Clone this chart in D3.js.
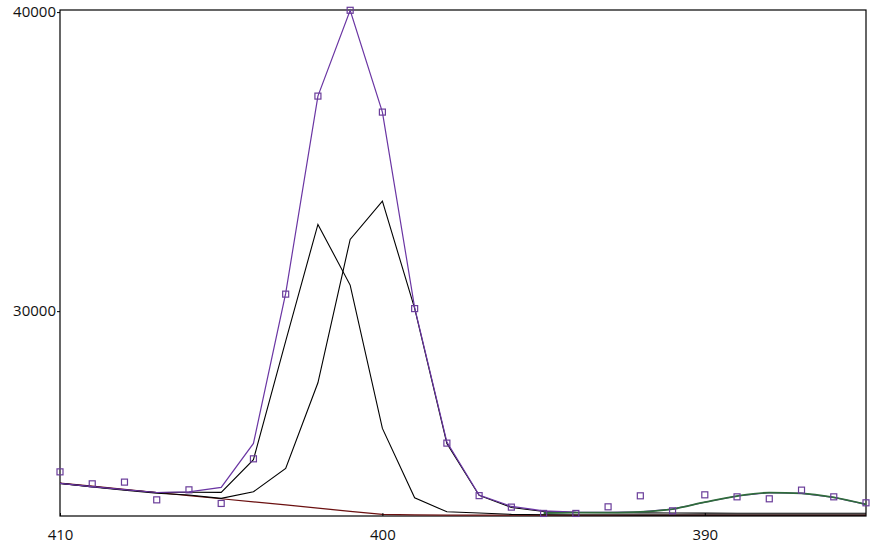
<!DOCTYPE html>
<html>
<head>
<meta charset="utf-8">
<script src="https://cdn.jsdelivr.net/npm/d3@7"></script>
<style>
  body { margin: 0; background: #fff; }
  svg { display: block; }
</style>
</head>
<body>
<div id="viz"></div>
<script>
// wavelength positions (axis runs high -> low)
const wavelength = [410, 409, 408, 407, 406, 405, 404, 403, 402, 401, 400, 399, 398,
                    397, 396, 395, 394, 393, 392, 391, 390, 389, 388, 387, 386, 385];

// measured points (squares)
const observed = [24626, 24226, 24283, 23690, 24025, 23570, 25062, 30569, 37191, 40060, 36656, 30085, 25587,
                  23831, 23447, 23236, 23236, 23457, 23825, 23323, 23858, 23791, 23725, 24015, 23791, 23591];

// total fit (purple)
const totalFit = [24240, 24133, 24030, 23935, 23959, 24106, 25577, 30593, 37191, 40060, 36656, 30119, 25620,
                  23848, 23469, 23324, 23280, 23270, 23290, 23380, 23610, 23818, 23929, 23909, 23775, 23541];

// component peaks (black)
const peakA = [24240, 24133, 24030, 23935, 23945, 23940, 25035, 29000, 32901, 30871, 26079, 23758, 23290,
               23250, 23205, 23190, 23185, 23182, 23180, 23180, 23180, 23180, 23180, 23180, 23180, 23180];
const peakB = [24240, 24120, 24010, 23910, 23850, 23740, 23959, 24741, 27604, 32399, 33680, 30092, 25577,
               23838, 23436, 23302, 23269, 23260, 23255, 23250, 23245, 23240, 23240, 23240, 23240, 23240];

// third component (green), only on the right part
const peakCx = [395, 394, 393, 392, 391, 390, 389, 388, 387, 386, 385];
const peakC = [23250, 23260, 23265, 23290, 23380, 23610, 23818, 23929, 23909, 23775, 23541];

// baseline (maroon)
const baseline = [24250, 24146, 24039, 23936, 23832, 23726, 23622, 23519, 23414, 23307, 23203, 23185,
                  23180, 23180, 23180, 23180, 23180, 23180, 23180, 23180, 23180, 23180, 23180, 23180, 23180, 23180];

const xTicks = [410, 400, 390];
const yTicks = [30000, 40000];

const width = 876, height = 550;
const margin = { top: 10, right: 10, bottom: 34, left: 60 };

const svg = d3.select("#viz").append("svg")
  .attr("width", width)
  .attr("height", height);

const x = d3.scaleLinear()
  .domain([410, 385])
  .range([margin.left, width - margin.right]);

const y = d3.scaleLinear()
  .domain([23150, 40070])
  .range([height - margin.bottom, margin.top]);

// frame
svg.append("rect")
  .attr("x", margin.left)
  .attr("y", margin.top)
  .attr("width", width - margin.left - margin.right)
  .attr("height", height - margin.top - margin.bottom)
  .attr("fill", "none")
  .attr("stroke", "#000")
  .attr("stroke-width", 1.2);

const line = d3.line()
  .x((d, i) => x(wavelength[i]))
  .y(d => y(d));

svg.append("path").datum(baseline)
  .attr("d", line).attr("fill", "none")
  .attr("stroke", "#6b1010").attr("stroke-width", 1.2);

svg.append("path").datum(peakA)
  .attr("d", line).attr("fill", "none")
  .attr("stroke", "#000").attr("stroke-width", 1.1);

svg.append("path").datum(peakB)
  .attr("d", line).attr("fill", "none")
  .attr("stroke", "#000").attr("stroke-width", 1.1);

svg.append("path").datum(totalFit)
  .attr("d", line).attr("fill", "none")
  .attr("stroke", "#6a35a3").attr("stroke-width", 1.2);

svg.append("path").datum(peakC)
  .attr("d", d3.line()
    .x((d, i) => x(peakCx[i]))
    .y(d => y(d))
    .curve(d3.curveMonotoneX))
  .attr("fill", "none")
  .attr("stroke", "#2f6b3c").attr("stroke-width", 1.8);

// squares
svg.append("g")
  .selectAll("rect")
  .data(observed)
  .join("rect")
  .attr("x", (d, i) => x(wavelength[i]) - 3)
  .attr("y", d => y(d) - 3)
  .attr("width", 6)
  .attr("height", 6)
  .attr("fill", "none")
  .attr("stroke", "#6a3d9a")
  .attr("stroke-width", 1.2);

// axes
const yAxis = svg.append("g")
  .attr("transform", `translate(${margin.left},0)`)
  .call(d3.axisLeft(y).tickValues(yTicks).tickFormat(d3.format("d")).tickSize(3).tickPadding(1));

const xAxis = svg.append("g")
  .attr("transform", `translate(0,${height - margin.bottom})`)
  .call(d3.axisBottom(x).tickValues(xTicks).tickFormat(d3.format("d")).tickSize(-3).tickPadding(13));

[yAxis, xAxis].forEach(g => {
  g.select(".domain").remove();
  g.selectAll("text")
    .attr("font-family", "'Open Sans', sans-serif")
    .attr("font-size", "15px")
    .attr("fill", "#111");
});
</script>
</body>
</html>
